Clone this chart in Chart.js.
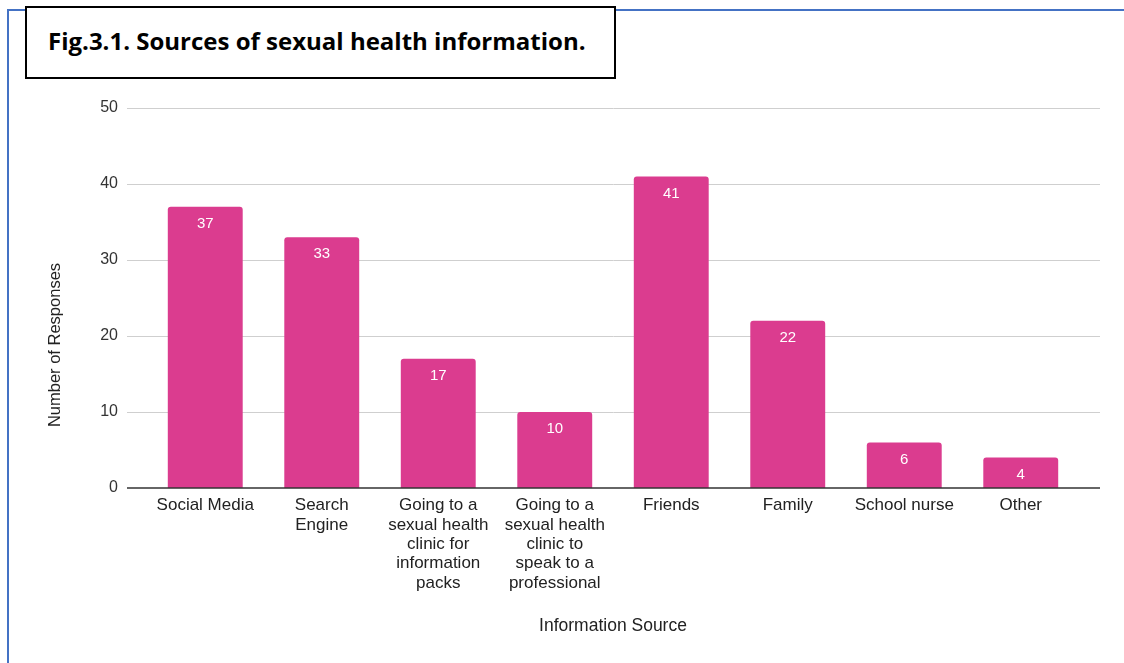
<!DOCTYPE html>
<html>
<head>
<meta charset="utf-8">
<script src="https://cdn.jsdelivr.net/npm/chart.js@4.4.1/dist/chart.umd.min.js"></script>
<style>
  html, body { margin: 0; padding: 0; background: #fff; }
  #wrap { position: relative; width: 1124px; height: 663px; overflow: hidden; }
  #frame { position: absolute; left: 7px; top: 9px; width: 1200px; height: 700px;
           border-top: 2px solid #4472C4; border-left: 2px solid #4472C4; }
  #title { position: absolute; left: 25px; top: 6px; width: 566px; height: 69px;
           border: 2px solid #000; background: #fff;
           font-family: "Open Sans", "Liberation Sans", sans-serif; font-weight: bold;
           font-size: 24px; line-height: 66px; padding-left: 21px; box-sizing: content-box;
           white-space: nowrap; }
  canvas { position: absolute; left: 0; top: 0; }
</style>
</head>
<body>
<div id="wrap">
  <div id="frame"></div>
  <canvas id="chart" width="1124" height="663"></canvas>
  <div id="title">Fig.3.1. Sources of sexual health information.</div>
</div>
<script>
const categories = [
  "Social Media",
  ["Search", "Engine"],
  ["Going to a", "sexual health", "clinic for", "information", "packs"],
  ["Going to a", "sexual health", "clinic to", "speak to a", "professional"],
  "Friends",
  "Family",
  "School nurse",
  "Other"
];
const responses = [37, 33, 17, 10, 41, 22, 6, 4];
const yTicks = [0, 10, 20, 30, 40, 50];

const barColor = "#DB3C8F";
const fontFam = "'Liberation Sans', Arial, sans-serif";

// gridlines drawn a bit wider than the category area, like the original
const gridPlugin = {
  id: "wideGrid",
  beforeDatasetsDraw(chart) {
    const {ctx, chartArea, scales} = chart;
    ctx.save();
    ctx.strokeStyle = "#cfcfcf";
    ctx.lineWidth = 1;
    yTicks.forEach(v => {
      if (v === 0) return;
      const y = Math.round(scales.y.getPixelForValue(v)) + 0.5;
      ctx.beginPath();
      ctx.moveTo(chartArea.left - 20, y);
      ctx.lineTo(chartArea.right + 21, y);
      ctx.stroke();
    });
    ctx.restore();
  },
  afterDatasetsDraw(chart) {
    const {ctx, chartArea, scales} = chart;
    ctx.save();
    ctx.strokeStyle = "#333";
    ctx.lineWidth = 1.5;
    const y = scales.y.getPixelForValue(0);
    ctx.beginPath();
    ctx.moveTo(chartArea.left - 20, y);
    ctx.lineTo(chartArea.right + 21, y);
    ctx.stroke();

    // value labels inside bar tops
    ctx.fillStyle = "#fff";
    ctx.font = "15px " + fontFam;
    ctx.textAlign = "center";
    ctx.textBaseline = "middle";
    chart.getDatasetMeta(0).data.forEach((bar, i) => {
      ctx.fillText(String(responses[i]), bar.x, bar.y + 17);
    });

    // y axis title, centred a bit lower than the plot like the original
    ctx.fillStyle = "#222";
    ctx.font = "16.5px " + fontFam;
    ctx.translate(55, 345);
    ctx.rotate(-Math.PI / 2);
    ctx.fillText("Number of Responses", 0, 0);
    ctx.restore();
  }
};

new Chart(document.getElementById("chart"), {
  type: "bar",
  data: {
    labels: categories,
    datasets: [{
      label: "Number of Responses",
      data: responses,
      backgroundColor: barColor,
      borderRadius: {topLeft: 3, topRight: 3},
      borderSkipped: "bottom",
      categoryPercentage: 1,
      barPercentage: 0.643
    }]
  },
  options: {
    responsive: false,
    animation: false,
    devicePixelRatio: 1,
    layout: { padding: { left: 46, right: 45, top: 108, bottom: 18 } },
    plugins: {
      legend: { display: false },
      tooltip: { enabled: false }
    },
    scales: {
      x: {
        grid: { display: false, drawTicks: false },
        border: { display: false },
        ticks: {
          color: "#222",
          padding: 8,
          maxRotation: 0,
          autoSkip: false,
          font: { family: fontFam, size: 17, lineHeight: "19.3px" }
        },
        title: {
          display: true,
          text: "Information Source",
          color: "#222",
          padding: { top: 0, bottom: 8 },
          font: { family: fontFam, size: 17.5, lineHeight: 1.2 }
        },
        afterFit(scale) { scale.height = 663 - 18 - 488; }
      },
      y: {
        min: 0,
        max: 50,
        grid: { display: false, drawTicks: false },
        border: { display: false },
        ticks: {
          stepSize: 10,
          color: "#333",
          padding: 29,
          font: { family: fontFam, size: 16 }
        },
        title: { display: false },
        afterFit(scale) { scale.width = 147 - 46; }
      }
    }
  },
  plugins: [gridPlugin]
});
</script>
</body>
</html>
